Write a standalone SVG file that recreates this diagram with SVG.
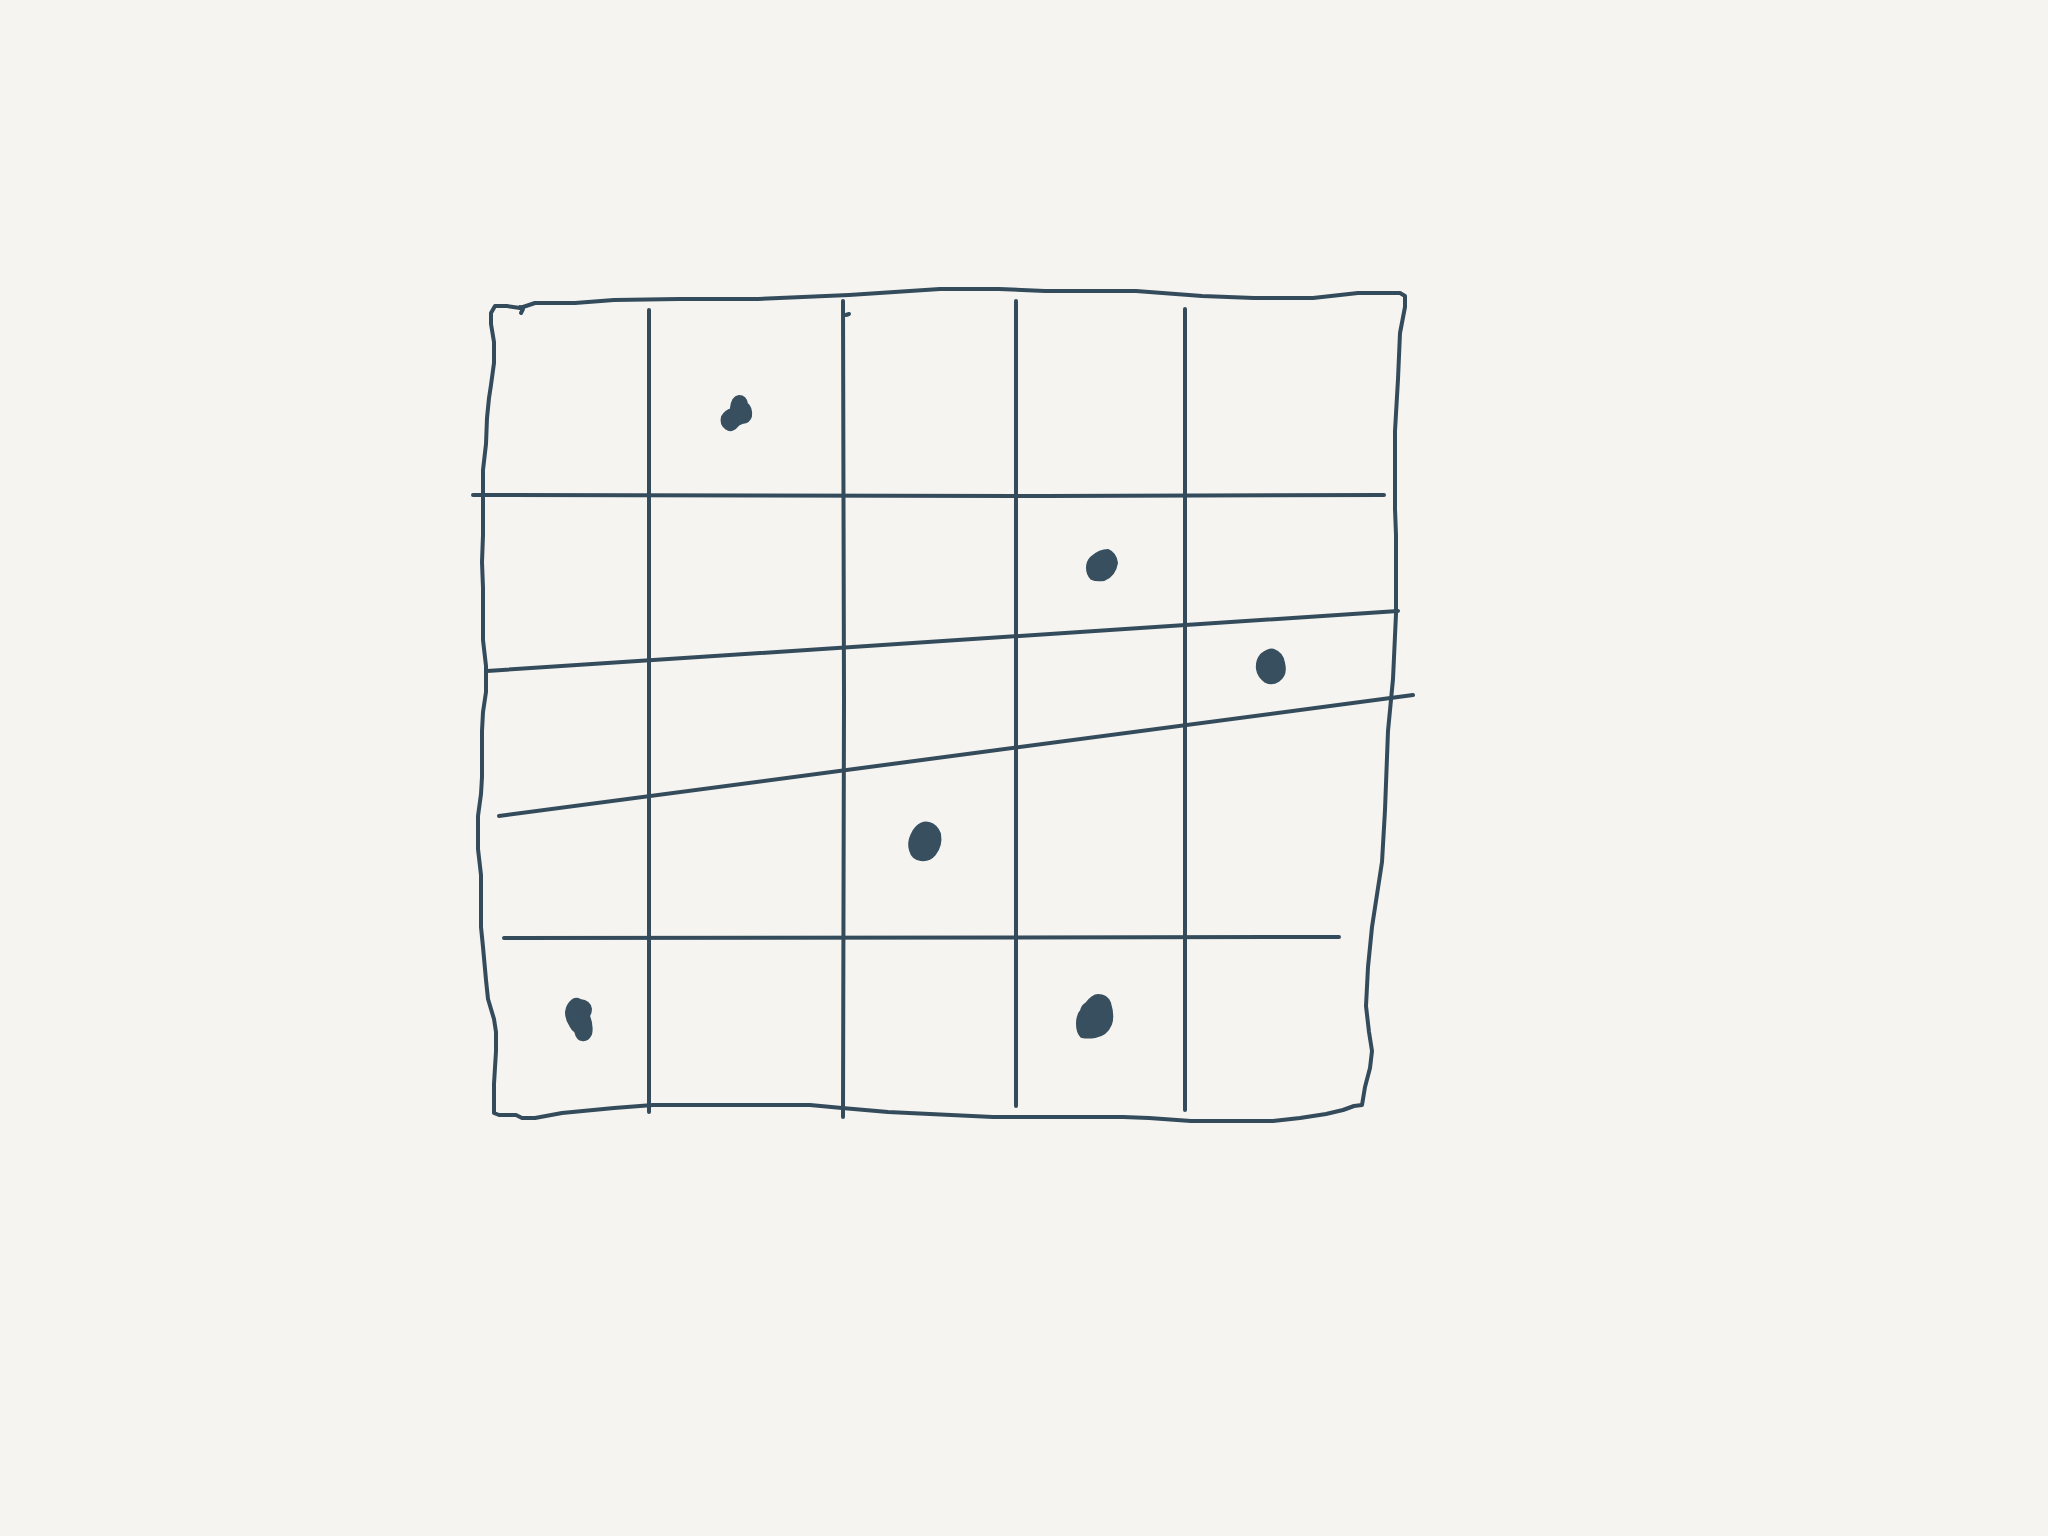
<svg xmlns="http://www.w3.org/2000/svg" width="2048" height="1536" viewBox="0 0 2048 1536">
<style>
.ln{fill:none;stroke:#344b5c;stroke-width:4;stroke-linecap:round;stroke-linejoin:round}
.dot{fill:#384f5f;stroke:#384f5f;stroke-width:4;stroke-linejoin:round}
</style>
<rect width="2048" height="1536" fill="#f5f4f0"/>
<g id="frame">
<path class="ln" d="M520,308 L535,303 L575,303 L614,300 L679,299 L758,299 L849,295 L940,289 L999,289 L1045,291 L1136,291 L1202,296 L1254,298 L1313,298 L1358,293 L1400,293 L1405,296 L1405,307 L1400,333 L1398,379 L1395,431 L1395,509 L1396,535 L1396,614 L1393,679 L1388,731 L1385,810 L1382,862 L1372,927 L1368,967 L1366,1006 L1369,1032 L1372,1051 L1370,1068 L1365,1087 L1362,1105 L1354,1106 L1343,1110 L1326,1114 L1300,1118 L1273,1121 L1191,1121 L1149,1118 L1123,1117 L993,1117 L888,1112 L842,1108 L810,1105 L653,1105 L614,1108 L562,1113 L535,1118 L522,1118 L516,1115 L499,1115 L494,1113 L494,1084 L496,1051 L496,1032 L494,1019 L488,999 L486,980 L483,947 L481,927 L481,875 L478,849 L478,816 L481,794 L482,777 L482,731 L483,712 L486,692 L486,666 L483,640 L483,588 L482,562 L483,535 L483,470 L486,444 L487,418 L489,398 L491,385 L494,363 L494,342 L491,324 L491,313 L495,306 L507,306 L520,308"/>
<path class="ln" d="M520,307 L523,309 L521,313"/>
<path class="ln" d="M846,315 L849,314"/>
</g>
<g id="grid">
<path class="ln" d="M649,310 L649,1112"/>
<path class="ln" d="M843,301 L844,700 L843,1117"/>
<path class="ln" d="M1016,301 L1016,1106"/>
<path class="ln" d="M1185,309 L1185,1110"/>
<path class="ln" d="M473,495 L1045,496 L1384,495"/>
<path class="ln" d="M487,671 L1398,611"/>
<path class="ln" d="M499,816 L1413,695"/>
<path class="ln" d="M504,938 L1339,937"/>
</g>
<g id="dots">
<path class="dot" d="M732,408 Q733,398 739,397 Q745,397 746,404 Q751,408 750,416 Q749,421 742,422 Q738,423 736,426 Q731,431 727,428 Q721,424 723,417 Q726,412 732,410 Z"/>
<path class="dot" d="M1092,558 Q1100,551 1108,551 Q1115,554 1116,563 Q1114,575 1104,579 Q1096,580 1092,578 Q1088,574 1088,568 Q1088,562 1092,558 Z"/>
<path class="dot" d="M1262,655 Q1270,649 1274,651 Q1282,654 1283,663 Q1286,675 1278,680 Q1272,684 1266,681 Q1259,676 1258,669 Q1257,661 1262,655 Z"/>
<path class="dot" d="M917,828 Q923,822 929,824 Q936,826 939,834 Q941,845 934,854 Q929,860 921,859 Q913,858 911,850 Q909,843 912,836 Q914,831 917,828 Z"/>
<path class="dot" d="M571,1003 Q575,998 580,1001 Q589,1002 590,1009 Q590,1013 588,1016 Q592,1026 590,1034 Q587,1040 582,1039 Q578,1039 576,1031 Q573,1029 571,1025 Q567,1019 567,1012 Q568,1006 571,1003 Z"/>
<path class="dot" d="M1087,1004 Q1093,996 1098,996 Q1106,996 1109,1003 Q1113,1016 1110,1024 Q1106,1034 1095,1036 Q1088,1037 1082,1036 Q1078,1032 1078,1024 Q1078,1015 1082,1011 Q1083,1006 1087,1004 Z"/>
</g>
</svg>
